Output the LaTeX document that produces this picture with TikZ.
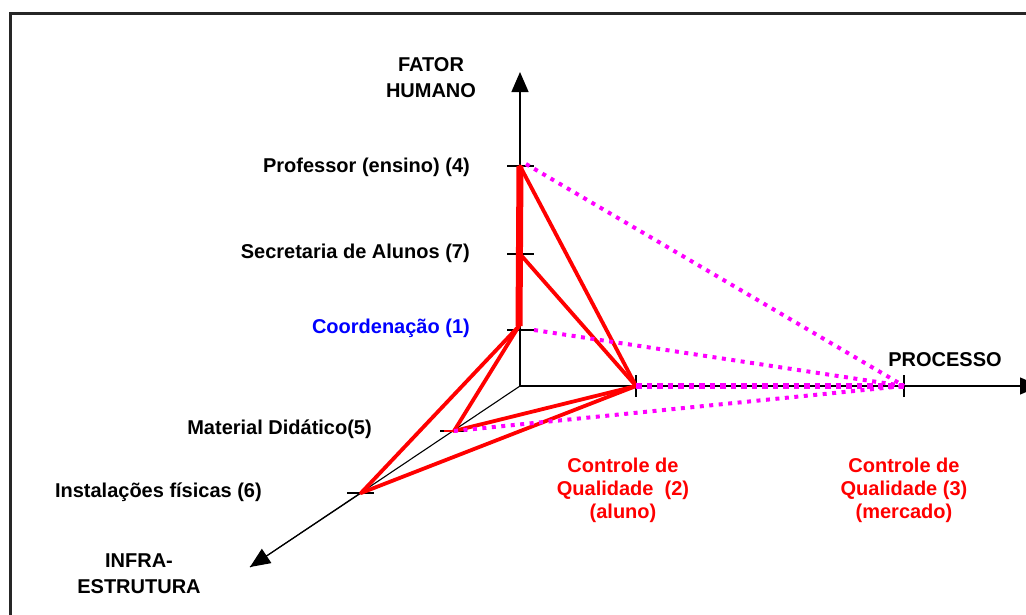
\documentclass[tikz,border=0pt]{standalone}
\usepackage{fontspec}
\setmainfont{Liberation Sans}
\usetikzlibrary{arrows.meta}
\definecolor{mymag}{RGB}{255,0,255}
\definecolor{myred}{RGB}{255,0,0}
\definecolor{myblue}{RGB}{0,0,255}
\begin{document}
\begin{tikzpicture}[x=1pt,y=-1pt,
  frame/.style={line width=2.2pt, black!85},
  axis/.style={line width=1.3pt, black},
  axisarrow/.style={axis, -{Triangle[length=20pt,width=17pt]}},
  tickmark/.style={line width=1.2pt, black},
  redline/.style={myred, line width=3.8pt, line cap=round},
  redthick/.style={myred, line width=7pt},
  mag/.style={mymag, line width=4pt, dash pattern=on 4pt off 5.5pt},
  magaxis/.style={mymag, line width=5.5pt, dash pattern=on 5.5pt off 5pt},
  lbl/.style={font=\fontsize{20}{23}\selectfont\bfseries, inner sep=0pt, align=center},
  lbltall/.style={font=\fontsize{20}{26}\selectfont\bfseries, inner sep=0pt, align=center},
]
\useasboundingbox (0,0) rectangle (1026,614);
\fill[white] (0,0) rectangle (1026,614);
\draw[frame] (10.5,13.5) rectangle (1060,640);

% key points
\coordinate (O) at (520,386);
\coordinate (YT) at (520,72);
\coordinate (XT) at (1040,386);
\coordinate (ZT) at (250,567);
\coordinate (P4) at (520,166);
\coordinate (P7) at (520,254);
\coordinate (P1) at (520,330);
\coordinate (P1r) at (519,326);
\coordinate (P2) at (636,386);
\coordinate (P3) at (904,386);
\coordinate (P5) at (454,431);
\coordinate (P6) at (361,493);

% axes
\draw[axisarrow] (O) -- (YT);
\draw[axisarrow] (O) -- (XT);
\draw[axis, line width=1.1pt] (O) -- (ZT);
\draw[axisarrow, line width=1.1pt] (P6) -- (ZT);

% ticks
\foreach \p in {P4,P7,P1}
  \draw[tickmark] ([xshift=-13pt]\p) -- ([xshift=14pt]\p);
\foreach \p in {P2,P3}
  \draw[tickmark] ([yshift=-11pt]\p) -- ([yshift=11pt]\p);
\foreach \p in {P5,P6}
  \draw[tickmark] ([xshift=-14pt]\p) -- ([xshift=13pt]\p);

% red lines
\draw[redthick] (P4) -- (P1r);
\draw[redline] (P4) -- (P2);
\draw[redline] (P7) -- (P2);
\draw[redline] (P1r) -- (P6);
\draw[redline] (P1r) -- (P5);
\draw[redline] (P5) -- (P2);
\draw[redline] (P6) -- (P2);
\draw[myred, line width=2.5pt] ([xshift=-10pt]P5) -- (P5);

% magenta dotted lines
\draw[mag] ([xshift=6pt,yshift=2pt]P4) -- (P3);
\draw[mag] ([xshift=14pt]P1) -- (P3);
\draw[mag] (P5) -- (P3);
\draw[magaxis] (P2) -- (P3);

% labels
\node[lbltall, anchor=center] (fh) at (431,78) {FATOR\\HUMANO};
\node[lbl, anchor=base east] (l4) at (470,172) {Professor (ensino) (4)};
\node[lbl, anchor=base east] (l7) at (470,258) {Secretaria de Alunos (7)};
\node[lbl, anchor=base east, text=myblue] (l1) at (470,333) {Coordenação (1)};
\node[lbl, anchor=base east] (l5) at (372,434) {Material Didático(5)};
\node[lbl, anchor=base east] (l6) at (262,497) {Instalações físicas (6)};
\node[lbltall, anchor=center] (ie) at (139,574) {INFRA-\\ESTRUTURA};
\node[lbl, anchor=base] (pr) at (945,366) {PROCESSO};
\node[lbl, anchor=center, text=myred] (q2) at (623,490) {Controle de\\Qualidade\ \ (2)\\(aluno)};
\node[lbl, anchor=center, text=myred] (q3) at (904,490) {Controle de\\Qualidade (3)\\(mercado)};
\end{tikzpicture}
\end{document}
